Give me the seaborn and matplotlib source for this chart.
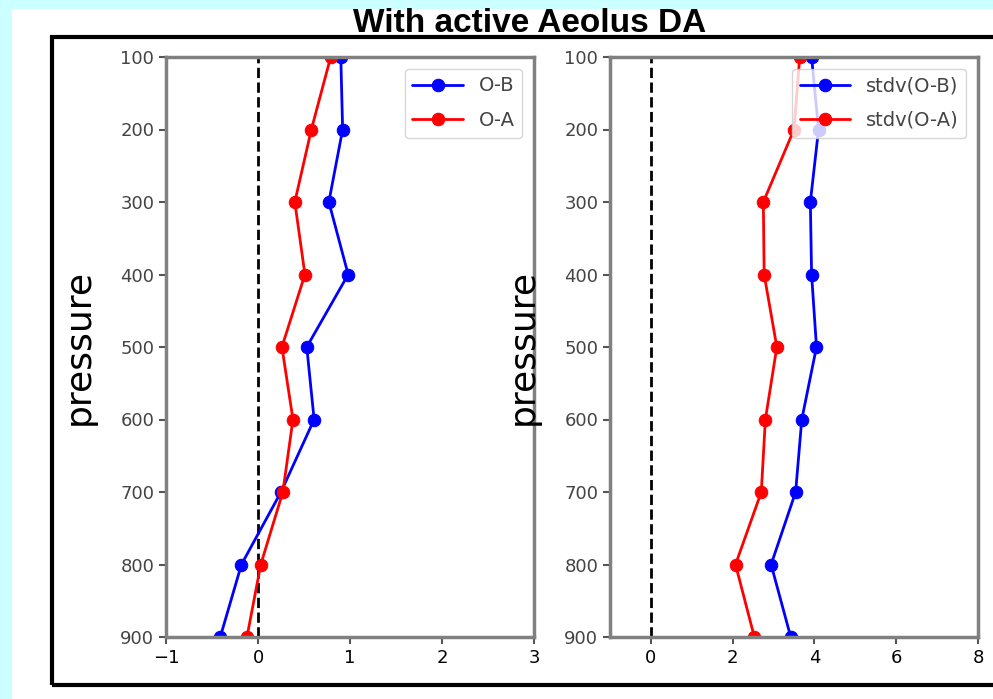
import seaborn as sns
import pandas as pd
import numpy as np
import matplotlib.pyplot as plt
from matplotlib.patches import Rectangle

# profiles
pressure = [100, 200, 300, 400, 500, 600, 700, 800, 900]
omb = [0.90, 0.92, 0.77, 0.98, 0.53, 0.61, 0.25, -0.18, -0.41]
oma = [0.79, 0.58, 0.40, 0.51, 0.26, 0.38, 0.27, 0.03, -0.12]
std_omb = [3.93, 4.10, 3.90, 3.93, 4.05, 3.69, 3.54, 2.94, 3.42]
std_oma = [3.64, 3.50, 2.75, 2.77, 3.08, 2.80, 2.70, 2.07, 2.53]

left_xticks = [-1, 0, 1, 2, 3]
right_xticks = [0, 2, 4, 6, 8]

df = pd.DataFrame({'pressure': pressure, 'O-B': omb, 'O-A': oma,
                   'stdv(O-B)': std_omb, 'stdv(O-A)': std_oma})

sns.set_style("white")
plt.rcParams['font.family'] = 'sans-serif'
plt.rcParams['font.sans-serif'] = ['DejaVu Sans']

fig = plt.figure(figsize=(9.93, 6.99), dpi=100, facecolor='#ccffff')
# white sheet and black frame of the slide
fig.patches.append(Rectangle((12 / 993, 0), 1, 1 - 9 / 699, transform=fig.transFigure,
                             facecolor='white', edgecolor='none', zorder=-2))
fig.patches.append(Rectangle((52 / 993, 14 / 699), 1, (685 - 37) / 699, transform=fig.transFigure,
                             facecolor='none', edgecolor='black', lw=3, zorder=-1))
fig.text(530 / 993, 1 - 23 / 699, 'With active Aeolus DA', ha='center', va='center',
         fontsize=24, fontweight='bold', family='Liberation Sans', color='black')

ax1 = fig.add_axes([166 / 993, 62 / 699, 368 / 993, 580 / 699])
ax2 = fig.add_axes([610 / 993, 62 / 699, 368 / 993, 580 / 699])

panels = [(ax1, ['O-B', 'O-A'], (-1, 3), left_xticks),
          (ax2, ['stdv(O-B)', 'stdv(O-A)'], (-1, 8), right_xticks)]

for ax, cols, xlim, xt in panels:
    ax.axvline(0, color='black', ls='--', lw=2, zorder=1)
    for col, c in zip(cols, ['blue', 'red']):
        sns.lineplot(data=df, x=col, y='pressure', orient='y', ax=ax, color=c,
                     marker='o', markersize=9, markeredgecolor=c, lw=2, label=col)
    ax.set_xlim(*xlim)
    ax.set_ylim(900, 100)
    ax.set_xticks(xt)
    ax.set_yticks(pressure)
    ax.set_xlabel('')
    ax.set_ylabel('pressure', fontsize=26, color='black')
    ax.yaxis.set_label_coords(-0.19, 0.5)
    for s in ax.spines.values():
        s.set_color('#808080')
        s.set_linewidth(2.5)
    ax.tick_params(axis='both', direction='out', length=5, width=1.5, color='#555555',
                   labelsize=13, left=True, bottom=True)
    ax.tick_params(axis='x', labelcolor='black')
    ax.tick_params(axis='y', labelcolor='#444444')
    leg = ax.legend(loc='upper right', fontsize=14, framealpha=0.8, labelspacing=0.8,
                    handlelength=2.6, borderaxespad=0.6)
    for t in leg.get_texts():
        t.set_color('#444444')

fig.savefig('out.png', dpi=100, facecolor=fig.get_facecolor())
